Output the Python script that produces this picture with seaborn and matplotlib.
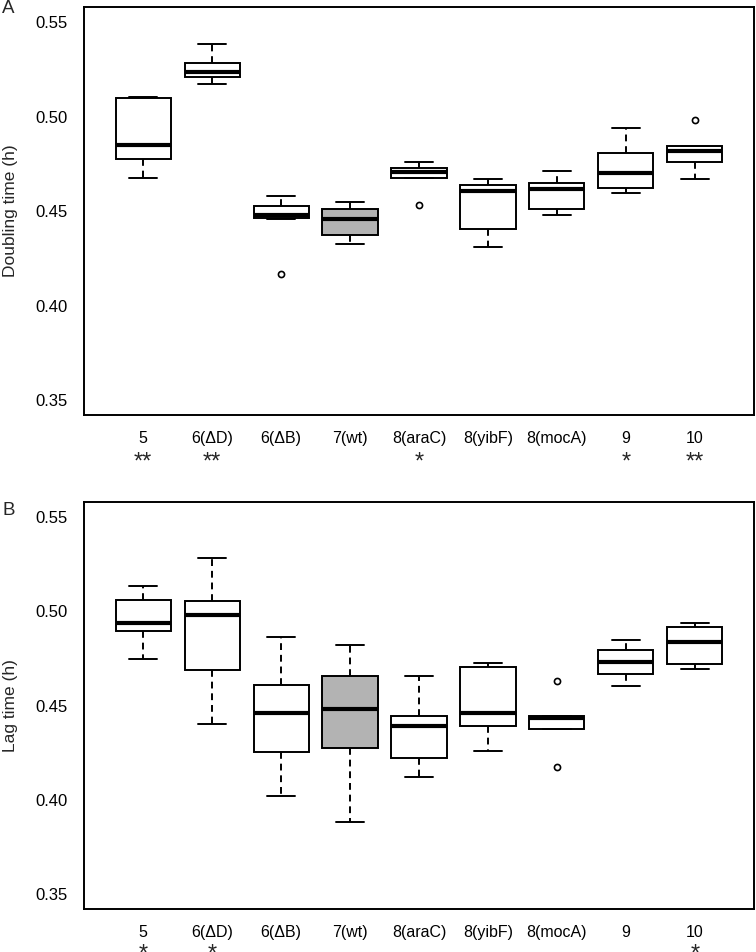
import numpy as np
import pandas as pd
import matplotlib
matplotlib.use("Agg")
import matplotlib.pyplot as plt
import seaborn as sns

# ---------------- data ----------------
strains = ["5", "6(ΔD)", "6(ΔB)", "7(wt)", "8(araC)", "8(yibF)", "8(mocA)", "9", "10"]

# replicate measurements per strain (panel A, doubling time in h)
doubling_time = [
    [0.4675, 0.4720, 0.4774, 0.4810, 0.4848, 0.4950, 0.5102, 0.5103, 0.5104],
    [0.5173, 0.5195, 0.5212, 0.5225, 0.5235, 0.5260, 0.5283, 0.5330, 0.5385],
    [0.4168, 0.4456, 0.4466, 0.4475, 0.4481, 0.4500, 0.4525, 0.4550, 0.4581],
    [0.4325, 0.4350, 0.4375, 0.4420, 0.4458, 0.4490, 0.4511, 0.4530, 0.4551],
    [0.4532, 0.4678, 0.4678, 0.4690, 0.4705, 0.4715, 0.4728, 0.4740, 0.4758],
    [0.4311, 0.4360, 0.4408, 0.4520, 0.4608, 0.4625, 0.4640, 0.4655, 0.4671],
    [0.4481, 0.4500, 0.4514, 0.4570, 0.4615, 0.4630, 0.4648, 0.4680, 0.4712],
    [0.4594, 0.4610, 0.4625, 0.4660, 0.4703, 0.4750, 0.4806, 0.4870, 0.4940],
    [0.4670, 0.4720, 0.4763, 0.4790, 0.4820, 0.4835, 0.4845, 0.4845, 0.4981],
]

# replicate measurements per strain (panel B, lag time in h)
lag_time = [
    [0.4746, 0.4820, 0.4896, 0.4920, 0.4938, 0.5000, 0.5062, 0.5100, 0.5136],
    [0.4403, 0.4550, 0.4691, 0.4850, 0.4979, 0.5020, 0.5055, 0.5170, 0.5281],
    [0.4018, 0.4130, 0.4251, 0.4350, 0.4461, 0.4540, 0.4610, 0.4740, 0.4864],
    [0.3882, 0.4080, 0.4276, 0.4380, 0.4479, 0.4570, 0.4659, 0.4740, 0.4820],
    [0.4118, 0.4170, 0.4221, 0.4300, 0.4390, 0.4420, 0.4443, 0.4550, 0.4657],
    [0.4258, 0.4330, 0.4392, 0.4430, 0.4459, 0.4600, 0.4705, 0.4715, 0.4726],
    [0.4175, 0.4373, 0.4373, 0.4400, 0.4435, 0.4440, 0.4443, 0.4443, 0.4631],
    [0.4606, 0.4640, 0.4666, 0.4700, 0.4733, 0.4760, 0.4795, 0.4820, 0.4846],
    [0.4694, 0.4705, 0.4719, 0.4780, 0.4837, 0.4880, 0.4919, 0.4930, 0.4940],
]

stars_a = ["**", "**", "", "", "*", "", "", "*", "**"]
stars_b = ["*", "*", "", "", "", "", "", "", "*"]

y_ticks = [0.35, 0.40, 0.45, 0.50, 0.55]
y_tick_labels = ["0.35", "0.40", "0.45", "0.50", "0.55"]

# ---------------- style ----------------
sns.set_style("white")
plt.rcParams["font.family"] = ["Liberation Sans", "DejaVu Sans"]

box_colors = ["white", "white", "white", "#b3b3b3", "white", "white", "white", "white", "white"]
palette = dict(zip(strains, box_colors))
LW = 1.4

fig = plt.figure(figsize=(7.56, 9.52), dpi=100)
W, H = 756.0, 952.0
ax_a = fig.add_axes([84 / W, 1 - 415 / H, 670 / W, (415 - 7.3) / H])
ax_b = fig.add_axes([84 / W, 1 - 909 / H, 670 / W, (909 - 502) / H])


def draw_panel(ax, values, ylabel, stars, star_offset):
    df = pd.DataFrame({
        "strain": np.repeat(strains, [len(v) for v in values]),
        "value": np.concatenate(values),
    })
    sns.boxplot(
        data=df, x="strain", y="value", hue="strain",
        order=strains, hue_order=strains, palette=palette,
        saturation=1, width=0.8, dodge=False, legend=False,
        linecolor="black", linewidth=LW, whis=1.5,
        flierprops=dict(marker="o", markerfacecolor="none",
                        markeredgecolor="black", markersize=4.4,
                        markeredgewidth=1.2),
        medianprops=dict(linewidth=3.0, color="black"),
        whiskerprops=dict(linestyle=(0, (3.5, 2.5)), linewidth=LW, color="black"),
        capprops=dict(linewidth=LW, color="black"),
        ax=ax,
    )
    ax.set_xlim(-0.86, 8.86)
    ax.set_ylim(0.342, 0.558)
    ax.set_yticks(y_ticks)
    ax.set_yticklabels(y_tick_labels)
    ax.set_xlabel("")
    ax.set_ylabel(ylabel, fontsize=12.5)
    ax.yaxis.set_label_coords(-0.099, 0.5)
    ax.tick_params(axis="both", direction="out", length=5.8, width=LW,
                   color="black", labelcolor="black")
    ax.tick_params(axis="y", labelsize=12, pad=6)
    ax.tick_params(axis="x", labelsize=11.5, pad=5.5)
    for sp in ax.spines.values():
        sp.set_visible(True)
        sp.set_color("black")
        sp.set_linewidth(LW)
    for i, s in enumerate(stars):
        if s:
            ax.annotate(s, xy=(i, 0), xycoords=("data", "axes fraction"),
                        xytext=(0, star_offset), textcoords="offset pixels",
                        ha="center", va="baseline", fontsize=17)


draw_panel(ax_a, doubling_time, "Doubling time (h)", stars_a, -54)
draw_panel(ax_b, lag_time, "Lag time (h)", stars_b, -52)

fig.text(2 / W, 1.0, "A", ha="left", va="top", fontsize=13.5)
fig.text(2 / W, 1 - 502 / H, "B", ha="left", va="top", fontsize=13.5)

fig.savefig("out.png", dpi=100)
